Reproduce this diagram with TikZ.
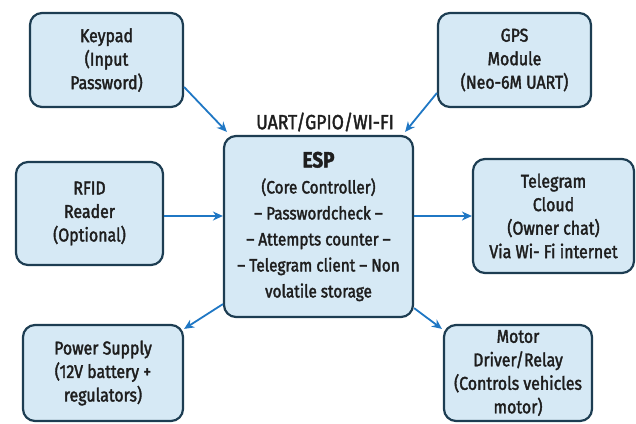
\documentclass[tikz,border=0pt]{standalone}
\usepackage{fontspec}
\setmainfont{Fira Sans}[FakeStretch=0.86, FakeBold=2]
\usetikzlibrary{calc,arrows.meta}
\definecolor{boxfill}{HTML}{D6E9F5}
\definecolor{boxline}{HTML}{1D3D52}
\definecolor{arrowc}{HTML}{1F77C4}
\definecolor{txt}{HTML}{1E1E1E}
\tikzset{
  blk/.style={draw=boxline, fill=boxfill, line width=2.2pt, rounded corners=12pt,
    align=center, text=txt, font=\fontsize{18.5}{23.5}\selectfont, inner sep=0pt},
  conn/.style={draw=arrowc, line width=1.8pt, -{Stealth[length=10pt,width=9pt]}}
}
\begin{document}
\begin{tikzpicture}[x=1pt,y=-1pt]
\useasboundingbox (0,0) rectangle (636,423);
\node[blk, minimum width=153pt, minimum height=94pt] (kp) at (106.5,60) {Keypad\\(Input\\Password)};
\node[blk, minimum width=153pt, minimum height=94pt] (gps) at (514.5,60) {GPS\\Module\\(Neo-6M UART)};
\node[blk, minimum width=147pt, minimum height=103pt] (rfid) at (89.5,213.5) {RFID\\Reader\\(Optional)};
\node[blk, minimum width=189pt, minimum height=181pt, font=\fontsize{17.8}{26}\selectfont] (esp) at (318.5,226.5)
  {{\fontsize{22}{26}\selectfont\bfseries ESP}\\(Core Controller)\\-- Passwordcheck --\\-- Attempts counter --\\-- Telegram client -- Non\\volatile storage};
\node[blk, minimum width=161pt, minimum height=114pt] (tg) at (553.5,216) {Telegram\\Cloud\\(Owner chat)\\Via Wi- Fi internet};
\node[blk, minimum width=160pt, minimum height=96pt] (ps) at (103,373) {Power Supply\\(12V battery +\\regulators)};
\node[blk, minimum width=148pt, minimum height=96pt] (mo) at (518,373) {Motor\\Driver/Relay\\(Controls vehicles\\motor)};
\node[text=txt, font=\fontsize{20.5}{24}\selectfont] (lbl) at (325,122) {UART/GPIO/WI-FI};
\draw[conn] ($(kp.east)+(0,27)$) -- ($(esp.north west)+(4,-3)$);
\draw[conn] ($(gps.west)+(0,33)$) -- ($(esp.north east)+(-9,-3)$);
\draw[conn] (rfid.east |- 0,216) -- (esp.west |- 0,216);
\draw[conn] (esp.east |- 0,216) -- (tg.west |- 0,216);
\draw[conn] ($(esp.south west)+(0,-14)$) -- ($(ps.north east)+(0,5)$);
\draw[conn] ($(esp.south east)+(0,-10)$) -- ($(mo.north west)+(-1,5)$);
\end{tikzpicture}
\end{document}
